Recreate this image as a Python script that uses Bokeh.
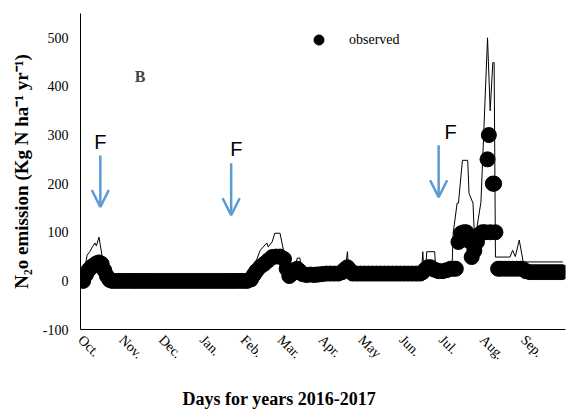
import math
from bokeh.plotting import figure
from bokeh.models import (Range1d, FixedTicker, Legend, LegendItem, Arrow, OpenHead, Label, Title)
from bokeh.embed import file_html
from bokeh.resources import INLINE

# ---- data (day index from 1 Oct 2016) ----
month_days = [0, 31, 61, 92, 123, 151, 182, 212, 243, 273, 304, 335]
month_labels = ["Oct.", "Nov.", "Dec.", "Jan.", "Feb.", "Mar.", "Apr.", "May", "Jun.", "Jul.", "Aug.", "Sep."]
y_ticks = [-100, 0, 100, 200, 300, 400, 500]
y_tick_labels = ["-100", "0", "100", "200", "300", "400", "500"]

# observed N2O emission
obs_day = [2, 4, 6, 8, 10, 12, 14, 16, 18, 20, 22, 24,
           27, 30, 33, 36, 39, 42, 45, 48, 51, 54, 57, 60, 63, 66, 69, 72, 75, 78, 81, 84,
           87, 90, 93, 96, 99, 102, 105, 108, 111, 114, 117, 120, 123, 126,
           129, 131, 133, 136, 139, 142, 145, 148, 151, 154, 156, 158, 160, 162, 164, 166, 168,
           171, 174, 177, 180, 183, 186, 189, 192, 195, 198, 200, 202, 204, 206,
           209, 212, 215, 218, 221, 224, 227, 230, 233, 236, 239, 242, 245, 248, 251, 254, 257,
           259, 261, 263, 265, 267, 269, 271, 274, 277, 280, 282, 284,
           286, 288, 290, 292, 294, 296, 298, 300, 302, 304, 306, 308, 309, 310, 312, 313, 314,
           316, 318, 321, 324, 327, 330, 333, 335, 337, 340, 343, 346, 349, 352, 355, 358, 361, 364]
obs_val = [0, 12, 22, 28, 32, 36, 38, 35, 22, 10, 2, 0,
           0, 0, 0, 0, 0, 0, 0, 0, 0, 0, 0, 0, 0, 0, 0, 0, 0, 0, 0, 0,
           0, 0, 0, 0, 0, 0, 0, 0, 0, 0, 0, 0, 0, 0,
           3, 12, 20, 29, 35, 42, 49, 50, 50, 45, 25, 10, 15, 22, 25, 20, 14,
           12, 13, 12, 13, 14, 15, 15, 15, 15, 18, 24, 28, 22, 15,
           15, 15, 15, 15, 15, 15, 15, 15, 15, 15, 15, 15, 15, 15, 15, 15, 15,
           18, 24, 28, 28, 24, 22, 20, 20, 22, 25, 25, 25,
           80, 98, 100, 100, 82, 49, 62, 80, 96, 100, 100, 250, 300, 100, 200, 200, 100,
           25, 25, 25, 25, 25, 25, 25, 24, 20, 18, 18, 18, 18, 18, 18, 18, 18, 18]

# simulated N2O emission (thin line)
sim_day = [0, 3, 5, 7, 9, 11, 12, 14, 17, 20, 22, 128, 131, 136, 141, 142, 145, 147, 151, 154,
           157, 160, 163, 164, 166, 167, 171, 175, 176, 184, 185, 200, 202, 203,
           258, 259, 260, 261, 262, 268, 269, 281, 282, 285, 286, 289, 293, 294, 297, 298,
           299, 300, 303, 304, 308, 310, 312, 313, 314, 325, 327, 329, 332, 335, 365]
sim_val = [0, 20, 53, 60, 70, 78, 72, 90, 40, 5, 0, 0, 27, 63, 78, 70, 80, 98, 98, 57,
           20, 15, 35, 47, 47, 28, 15, 15, 28, 28, 15, 15, 60, 15,
           15, 60, 15, 15, 60, 60, 15, 15, 98, 160, 160, 248, 248, 180, 160, 98,
           50, 110, 162, 227, 500, 350, 449, 449, 49, 49, 63, 50, 84, 39, 39]

# fertilisation events (arrow x positions, day index)
fert_day = [15, 114, 271]

SERIF = "Liberation Serif"
BLUE = "#5B9BD5"

p = figure(width=569, height=410, output_backend="svg", toolbar_location=None,
           x_range=Range1d(0, 367), y_range=Range1d(-100, 550),
           min_border_left=80, min_border_right=4, min_border_top=13, min_border_bottom=81)
p.outline_line_color = None
p.xgrid.visible = False
p.ygrid.visible = False
p.background_fill_color = "white"
p.border_fill_color = "white"

sc = p.scatter(obs_day, obs_val, size=15, marker="circle", fill_color="black", line_color="black")
p.line(sim_day, sim_val, line_color="black", line_width=1)

# axes
p.xaxis.ticker = FixedTicker(ticks=month_days)
p.xaxis.major_label_overrides = {d: l for d, l in zip(month_days, month_labels)}
p.xaxis.major_label_orientation = -math.pi / 4
p.yaxis.ticker = FixedTicker(ticks=y_ticks)
p.yaxis.major_label_overrides = {t: l for t, l in zip(y_ticks, y_tick_labels)}
for ax in (p.xaxis, p.yaxis):
    ax.major_tick_line_color = None
    ax.minor_tick_line_color = None
    ax.major_tick_out = 0
    ax.major_tick_in = 0
    ax.minor_tick_out = 0
    ax.minor_tick_in = 0
    ax.axis_line_color = "black"
    ax.major_label_text_font = SERIF
    ax.major_label_text_font_size = "14px"
    ax.major_label_text_color = "black"
    ax.axis_label_text_font = SERIF
    ax.axis_label_text_font_style = "bold"
    ax.axis_label_text_color = "black"
p.yaxis.major_label_standoff = 12
p.xaxis.major_label_standoff = 8
p.yaxis.axis_label = "N\u2082o emission (Kg N ha\u207b\u00b9 yr\u207b\u00b9)"
p.yaxis.axis_label_text_font_size = "19px"
p.yaxis.axis_label_standoff = 8

# x-axis title, left of centre as in the original, pushed down with top padding
title_kw = dict(text="Days for years 2016-2017", align="left", offset=102, standoff=0,
                vertical_align="bottom", text_font=SERIF, text_font_style="bold",
                text_font_size="18px", text_color="black")
try:
    x_title = Title(padding=(0, 16, 16, 0), **title_kw)
except Exception:
    x_title = Title(**title_kw)
p.add_layout(x_title, "below")

# fertilisation arrows and labels
arrow_top = [258, 242, 279]
arrow_bot = [152, 135, 172]
f_x = [15, 118, 280]
f_y = [285, 272, 307]
for xd, yt, yb in zip(fert_day, arrow_top, arrow_bot):
    p.add_layout(Arrow(x_start=xd, y_start=yt, x_end=xd, y_end=yb, line_color=BLUE, line_width=2.5,
                       end=OpenHead(size=17, line_color=BLUE, line_width=2.5)))
for xd, yv in zip(f_x, f_y):
    p.add_layout(Label(x=xd, y=yv, text="F", text_font="Liberation Sans", text_font_size="20px",
                       text_align="center", text_baseline="middle", text_color="black"))

p.add_layout(Label(x=45, y=420, text="B", text_font=SERIF, text_font_style="bold",
                   text_font_size="16px", text_align="center", text_baseline="middle"))

legend = Legend(items=[LegendItem(label="observed", renderers=[sc])], location=(226, 277),
                padding=0, margin=0, spacing=0, glyph_width=25, glyph_height=25, label_standoff=18,
                border_line_alpha=0, background_fill_alpha=0,
                label_text_font=SERIF, label_text_font_size="14px", label_text_color="black")
p.add_layout(legend)

open("out.html", "w").write(file_html(p, INLINE))
